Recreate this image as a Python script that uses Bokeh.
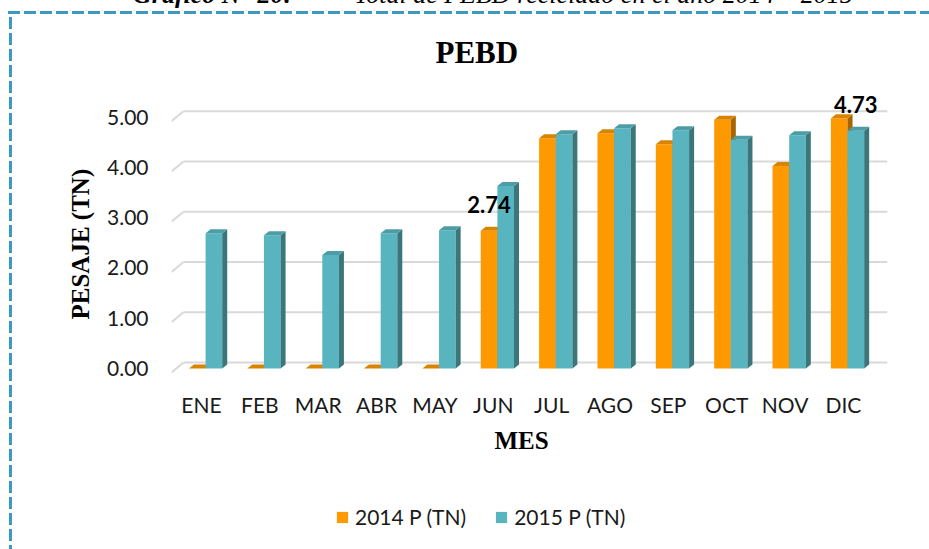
import numpy as np
from bokeh.plotting import figure
from bokeh.layouts import column
from bokeh.models import (Range1d, FixedTicker, Label, Legend, LegendItem, Title,
                          NumeralTickFormatter, Div)
from bokeh.embed import file_html
from bokeh.resources import INLINE

# ---------------- data ----------------
months = ["ENE", "FEB", "MAR", "ABR", "MAY", "JUN", "JUL", "AGO", "SEP", "OCT", "NOV", "DIC"]
p2014 = [0.0, 0.0, 0.0, 0.0, 0.0, 2.74, 4.58, 4.68, 4.46, 4.95, 4.03, 4.98]
p2015 = [2.69, 2.65, 2.26, 2.69, 2.75, 3.63, 4.66, 4.78, 4.74, 4.55, 4.64, 4.73]
series_names = ["2014 P (TN)", "2015 P (TN)"]
y_ticks = [0, 1, 2, 3, 4, 5]
labeled_points = [(0, 5), (1, 11)]   # (series index, month index)
title_text = "PEBD"
x_title = "MES"
y_title = "PESAJE (TN)"
caption_head = "Gráfico N° 20:"
caption_text = "Total de PEBD reciclado en el año 2014 – 2015"

# ---------------- geometry / style ----------------
W, H, HL = 929, 485, 64
FL, FW, FT, FH = 171, 716, 88, 286
X0 = -0.514
X1 = X0 + FW / 58.36
Y0 = -0.12
Y1 = Y0 + FH / 50.26
PX = (X1 - X0) / FW   # data units per px (x)
PY = (Y1 - Y0) / FH   # data units per px (y)

front = ["#FF9900", "#58B5BF"]
topc = ["#D98400", "#4C9DA5"]
sidec = ["#A86500", "#3B767B"]
BORDER = "#3B9AC4"

css_border = {
    "background-image": (f"repeating-linear-gradient(to bottom, {BORDER} 0px, {BORDER} 12px, "
                         f"transparent 12px, transparent 16px), "
                         f"repeating-linear-gradient(to right, {BORDER} 0px, {BORDER} 12px, "
                         f"transparent 12px, transparent 16px)"),
    "background-size": "3px 100%, 100% 3px",
    "background-position": "9px 17px, 8px 11px",
    "background-repeat": "no-repeat",
}

p = figure(width=W, height=H, x_range=Range1d(X0, X1), y_range=Range1d(Y0, Y1),
           output_backend="svg", toolbar_location=None,
           min_border_left=FL, min_border_right=W - FL - FW,
           min_border_top=FT, min_border_bottom=H - FT - FH)
p.border_fill_color = None
p.outline_line_color = None
p.xgrid.visible = False
p.ygrid.visible = False

# ---- back-wall gridlines (from tick values) ----
gdx, gdy, gdy0 = 12 * PX, 6 * PY, 4 * PY
yt = np.array(y_ticks, dtype=float)
p.segment(x0=[X0 + gdx] * len(yt), y0=yt + gdy, x1=[X1] * len(yt), y1=yt + gdy,
          line_color="#D9D9D9", line_width=2)
p.segment(x0=[X0] * len(yt), y0=yt - gdy0, x1=[X0 + gdx] * len(yt), y1=yt + gdy,
          line_color="#D9D9D9", line_width=2)

# ---- 3D bars ----
idx = np.arange(len(months), dtype=float)
bw = 0.285
shift = 0.07
DX, DY = 5 * PX, 4 * PY
for s, vals in enumerate([p2014, p2015]):
    v = np.array(vals, dtype=float)
    cx = idx + shift + (s - 0.5) * bw
    left, right = cx - bw / 2, cx + bw / 2
    p.vbar(x=cx, top=v, bottom=0, width=bw, fill_color=front[s], line_color=None)
    side_xs = [[rr, rr, rr + DX, rr + DX] for rr in right]
    side_ys = [[0, vv, vv + DY, DY] for vv in v]
    p.patches(side_xs, side_ys, fill_color=sidec[s], line_color=None)
    top_xs = [[ll, rr, rr + DX, ll + DX] for ll, rr in zip(left, right)]
    top_ys = [[vv, vv, vv + DY, vv + DY] for vv in v]
    p.patches(top_xs, top_ys, fill_color=topc[s], line_color=None)

# ---- data labels ----
for s, m in labeled_points:
    vals = [p2014, p2015][s]
    cx = m + shift + (s - 0.5) * bw
    p.add_layout(Label(x=cx, y=vals[m] + 18 * PY, text=f"{vals[m]:.2f}",
                       text_font="Lato", text_font_style="bold", text_font_size="22px",
                       text_color="#000000", text_align="center", text_baseline="bottom"))

# ---- axes ----
p.xaxis.ticker = FixedTicker(ticks=list(range(len(months))))
p.xaxis.major_label_overrides = {i: m for i, m in enumerate(months)}
p.yaxis.ticker = FixedTicker(ticks=y_ticks)
p.yaxis.formatter = NumeralTickFormatter(format="0.00")
for ax in (p.xaxis[0], p.yaxis[0]):
    ax.axis_line_color = None
    ax.major_tick_line_color = None
    ax.minor_tick_line_color = None
    ax.major_tick_in = 0
    ax.major_tick_out = 0
    ax.major_label_text_font = "Lato"
    ax.major_label_text_font_size = "21px"
    ax.major_label_text_color = "#1A1A1A"
p.xaxis.major_label_standoff = 17
p.yaxis.major_label_standoff = 23

# ---- titles (side panels, so they are not clipped) ----
p.title.text = title_text
p.title.align = "left"
p.title.text_font = "Liberation Serif"
p.title.text_font_style = "bold"
p.title.text_font_size = "31px"
p.title.text_color = "#000000"
p.title.offset = 264
p.title.standoff = 37

p.add_layout(Title(text=y_title, align="left", offset=55,
                   text_font="Liberation Serif", text_font_style="bold",
                   text_font_size="25px", text_color="#000000", standoff=22), "left")
p.add_layout(Title(text=x_title, align="left", offset=323,
                   text_font="Liberation Serif", text_font_style="bold",
                   text_font_size="25px", text_color="#000000", standoff=10), "below")

# ---- legend (own strip below the chart; its frame is aligned with the chart's) ----
pl = figure(width=W, height=HL, x_range=Range1d(0, 1), y_range=Range1d(0, 1),
            output_backend="svg", toolbar_location=None, min_border=0,
            x_axis_type=None, y_axis_type=None)
pl.outline_line_color = None
pl.border_fill_color = None
pl.background_fill_color = None
leg_r = [pl.vbar(x=[5], top=[5], bottom=[4], width=0.1, fill_color=front[s], line_color=None)
         for s in range(2)]
legend = Legend(items=[LegendItem(label=series_names[i], renderers=[leg_r[i]])
                       for i in range(2)],
                orientation="horizontal", location=(335 - FL, 20),
                glyph_width=14, glyph_height=14, label_standoff=6, spacing=28,
                padding=0, margin=0, border_line_color=None, background_fill_alpha=0,
                label_text_font="Lato", label_text_font_size="21px",
                label_text_color="#1A1A1A")
pl.add_layout(legend, "center")

# ---- document caption, cut off at the top edge as in the source page ----
caption = Div(
    text=(f'<span style="font-family: \'Liberation Serif\'; font-size: 26px; line-height: 26px; '
          f'font-style: italic; white-space: nowrap; color: #000;">'
          f'<b>{caption_head}</b><span style="padding-left: 62px;">{caption_text}</span></span>'),
    width=780, height=26,
    styles={"position": "absolute", "top": "-18px", "left": "133px", "margin": "0"})

layout = column(caption, p, pl, spacing=0, styles=css_border)
open("out.html", "w").write(file_html(layout, INLINE))
